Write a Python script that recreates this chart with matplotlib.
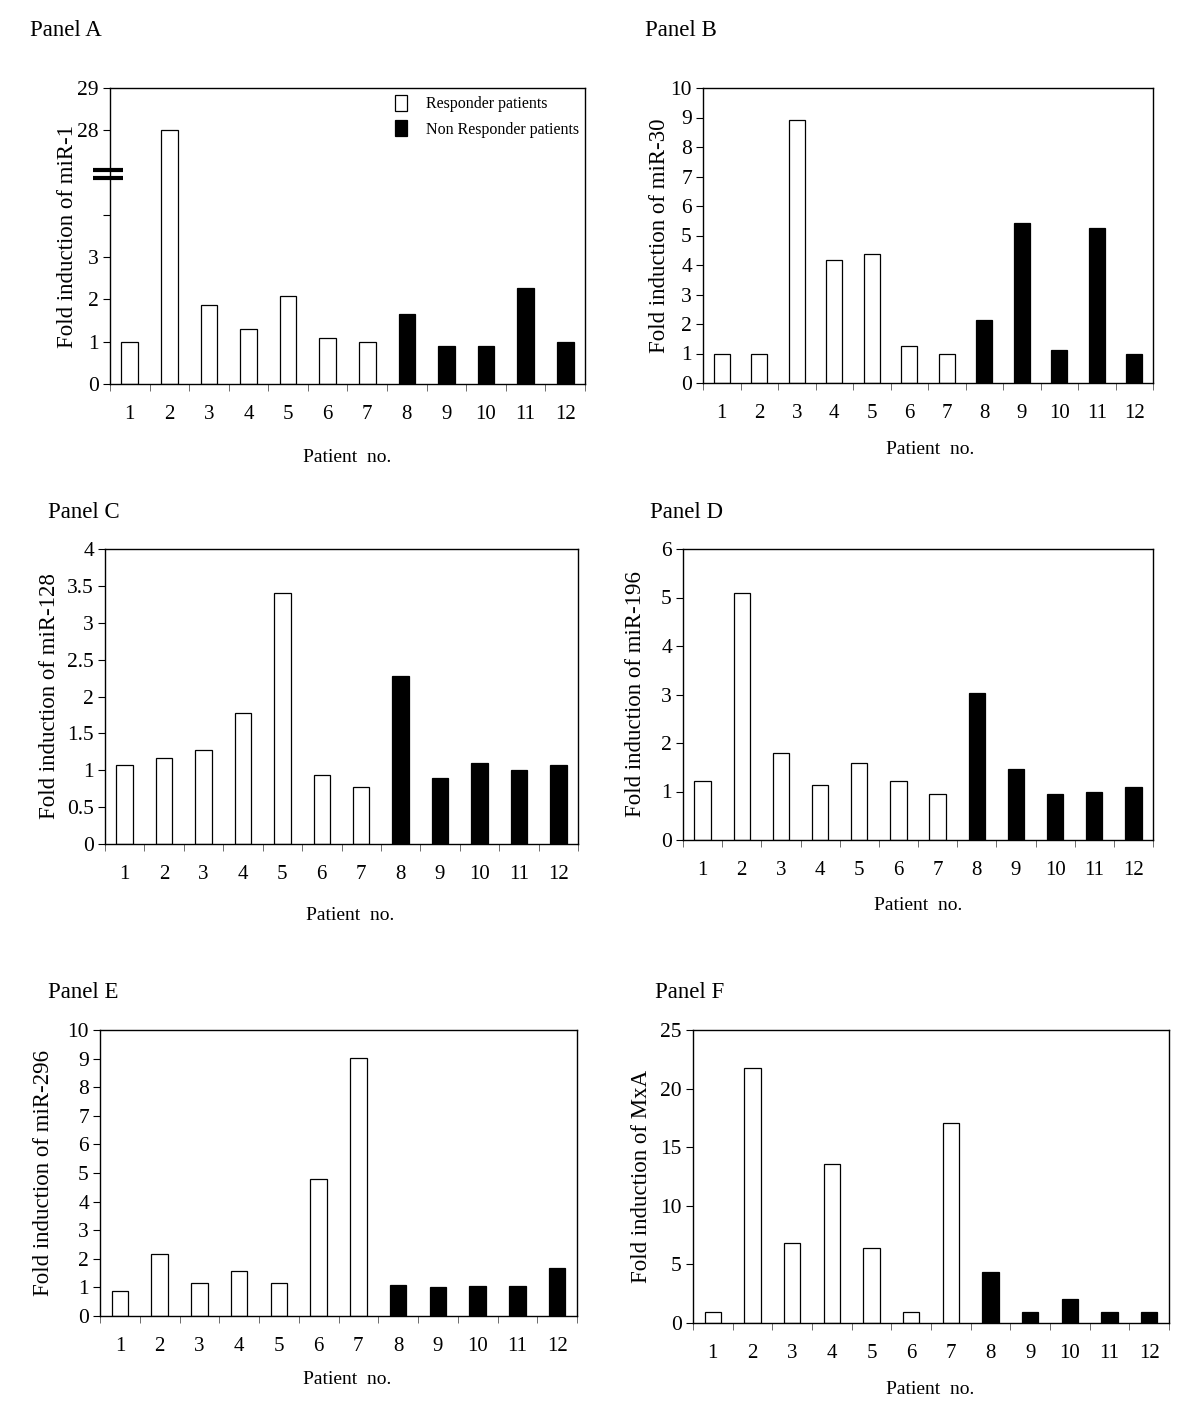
import matplotlib
matplotlib.use('Agg')
from matplotlib import pyplot as plt
from matplotlib.patches import Patch
from matplotlib.ticker import FixedLocator

plt.rcParams['font.family'] = ['Liberation Serif', 'DejaVu Serif']

patients = list(range(1, 13))
n_resp = 7  # patients 1-7 responders, 8-12 non responders

mir1 = [1.0, 28.0, 1.88, 1.29, 2.07, 1.09, 1.0, 1.66, 0.9, 0.9, 2.27, 1.0]
mir30 = [1.0, 1.0, 8.9, 4.17, 4.37, 1.24, 1.0, 2.14, 5.41, 1.12, 5.25, 1.0]
mir128 = [1.07, 1.17, 1.28, 1.78, 3.40, 0.94, 0.77, 2.28, 0.90, 1.10, 1.0, 1.07]
mir196 = [1.21, 5.09, 1.79, 1.13, 1.59, 1.21, 0.95, 3.04, 1.47, 0.94, 0.99, 1.10]
mir296 = [0.87, 2.16, 1.15, 1.56, 1.15, 4.79, 9.03, 1.08, 1.0, 1.04, 1.04, 1.69]
mxa = [0.91, 21.8, 6.81, 13.57, 6.41, 0.91, 17.07, 4.33, 0.91, 2.02, 0.91, 0.91]

# panel A has a broken y axis: 0-4 then 28-29
break_low, break_high = 4, 28
mir1_ticks = [0, 1, 2, 3, 4, 28, 29]
mir1_ticklabels = ['0', '1', '2', '3', '', '28', '29']


def squeeze(v):
    return v if v <= break_low else v - (break_high - break_low - 2)


W, H = 1200, 1418
fig = plt.figure(figsize=(W / 100, H / 100), dpi=100)


def make_axes(left, right, top, bottom):
    return fig.add_axes([left / W, 1 - bottom / H, (right - left) / W, (bottom - top) / H])


def draw_panel(ax, values, ymax, yticks, ylabel, label_x, ticklabels=None):
    colors = ['white'] * n_resp + ['black'] * (len(patients) - n_resp)
    ax.bar(patients, values, width=0.42, color=colors, edgecolor='black', linewidth=0.9)
    ax.set_xlim(0.5, 12.5)
    ax.set_ylim(0, ymax)
    ax.set_xticks(patients)
    ax.set_xticklabels([str(p) for p in patients])
    ax.xaxis.set_minor_locator(FixedLocator([p + 0.5 for p in range(0, 13)]))
    ax.tick_params(axis='x', which='major', length=0, pad=15, labelsize=15)
    ax.tick_params(axis='x', which='minor', length=5, direction='out', width=0.6, color='#555555')
    ax.set_yticks(yticks)
    if ticklabels is not None:
        ax.set_yticklabels(ticklabels)
    ax.tick_params(axis='y', which='major', length=5, direction='out', width=0.8, pad=3, labelsize=15.5)
    for s in ax.spines.values():
        s.set_linewidth(1.0)
    ax.set_ylabel(ylabel, fontsize=16.5)
    ax.yaxis.set_label_coords(label_x, 0.5)


# Panel A
axA = make_axes(110, 585, 88, 384)
draw_panel(axA, [squeeze(v) for v in mir1], squeeze(29), [squeeze(t) for t in mir1_ticks],
           'Fold induction of miR-1', -0.067, mir1_ticklabels)
for yb in (4.88, 5.06):
    axA.plot([-0.036, 0.027], [yb, yb], color='black', linewidth=3,
             transform=axA.get_yaxis_transform(), clip_on=False, solid_capstyle='butt')
handles = [Patch(facecolor='white', edgecolor='black', linewidth=0.9, label='Responder patients'),
           Patch(facecolor='black', edgecolor='black', linewidth=0.9, label='Non Responder patients')]
axA.legend(handles=handles, loc='upper left', bbox_to_anchor=(0.6, 0.975), frameon=False,
           fontsize=11.5, borderaxespad=0, borderpad=0, handlelength=0.75, handleheight=1.1,
           handletextpad=1.2, labelspacing=0.5)

# Panel B
axB = make_axes(703, 1153, 88, 383)
draw_panel(axB, mir30, 10, list(range(0, 11)), 'Fold induction of miR-30', -0.073)

# Panel C
axC = make_axes(105, 578, 549, 844)
draw_panel(axC, mir128, 4, [0, 0.5, 1, 1.5, 2, 2.5, 3, 3.5, 4], 'Fold induction of miR-128', -0.095,
           ['0', '0.5', '1', '1.5', '2', '2.5', '3', '3.5', '4'])

# Panel D
axD = make_axes(683, 1153, 549, 840)
draw_panel(axD, mir196, 6, list(range(0, 7)), 'Fold induction of miR-196', -0.079)

# Panel E
axE = make_axes(100, 577, 1030, 1316)
draw_panel(axE, mir296, 10, list(range(0, 11)), 'Fold induction of miR-296', -0.096)

# Panel F
axF = make_axes(693, 1169, 1030, 1323)
draw_panel(axF, mxa, 25, [0, 5, 10, 15, 20, 25], 'Fold induction of MxA', -0.086)

# panel titles
titles = [('Panel A', 30, 30), ('Panel B', 645, 30), ('Panel C', 48, 513),
          ('Panel D', 650, 513), ('Panel E', 48, 993), ('Panel F', 655, 993)]
for t, x, y in titles:
    fig.text(x / W, 1 - y / H, t, fontsize=16.5, ha='left', va='center')

# x axis titles
xlabels = [(347, 457), (930, 450), (350, 916), (918, 906), (347, 1380), (930, 1390)]
for x, y in xlabels:
    fig.text(x / W, 1 - y / H, 'Patient  no.', fontsize=14, ha='center', va='center')

plt.savefig('out.png', dpi=100)
